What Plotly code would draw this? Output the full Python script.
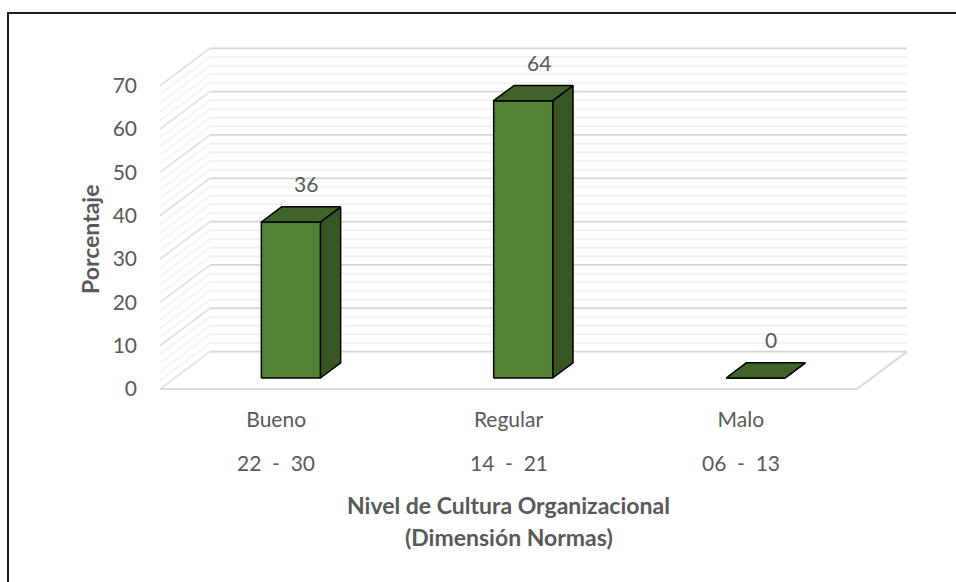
import plotly.graph_objects as go

# ---- data -------------------------------------------------------------
categorias = ["Bueno", "Regular", "Malo"]
rangos = ["22\u00a0\u00a0-\u00a0\u00a030", "14\u00a0\u00a0-\u00a0\u00a021", "06\u00a0\u00a0-\u00a0\u00a013"]
porcentajes = [36, 64, 0]
ticks_y = [0, 10, 20, 30, 40, 50, 60, 70]

# ---- 3D (oblique) geometry, expressed in axis units -------------------
PX_X = 232.33          # pixels per category slot
PX_Y = 4.333           # pixels per percentage point
DEPTH_X = 50 / PX_X    # horizontal shift of the full floor depth
DEPTH_Y = 37.4 / PX_Y  # vertical shift of the full floor depth
BAR_FRONT, BAR_BACK = 0.294, 0.70   # bar position inside the depth (0..1)
BAR_HALF = 0.127                    # half bar width, in category units
Y_TOP = 70
STEP_MINOR = 2
N = len(categorias)

# plot area in pixels (used to place paper-referenced text)
PLOT_L, PLOT_W, PLOT_T, PLOT_H = 160, 760, 30, 370

FONT = "Lato, 'Open Sans', sans-serif"
TXT = "#595959"
FRONT_C, TOP_C, SIDE_C = "#548235", "#40632a", "#375623"
TICK_SIZE, TITLE_SIZE = 21, 23


def proj(x, v, d):
    """Project a point (category x, value v, depth d) onto the 2D axes."""
    return x + d * DEPTH_X, v + d * DEPTH_Y


def px_x(px):
    return (px - PLOT_L) / PLOT_W


def px_y(py):
    return (PLOT_T + PLOT_H - py) / PLOT_H


def segs(pairs):
    xs, ys = [], []
    for a, b in pairs:
        xs += [a[0], b[0], None]
        ys += [a[1], b[1], None]
    return xs, ys


fig = go.Figure()

# ---- walls: back wall gridlines and side wall diagonals ----------------
levels = list(range(0, Y_TOP + 1, STEP_MINOR))
minor = [v for v in levels if v % 10]
major = [v for v in levels if v % 10 == 0]

for vals, col_back, col_side, w in [
    (minor, "#efefef", "#f3f3f3", 1.6),
    (major, "#d6d6d6", "#e2e2e2", 1.8),
]:
    xs, ys = segs([(proj(0, v, 1), proj(N, v, 1)) for v in vals])
    fig.add_trace(go.Scatter(x=xs, y=ys, mode="lines",
                             line=dict(color=col_back, width=w),
                             hoverinfo="skip"))
    xs, ys = segs([(proj(0, v, 0), proj(0, v, 1)) for v in vals])
    fig.add_trace(go.Scatter(x=xs, y=ys, mode="lines",
                             line=dict(color=col_side, width=w),
                             hoverinfo="skip"))

# floor outline (front edge and right edge)
xs, ys = segs([(proj(0, 0, 0), proj(N, 0, 0)), (proj(N, 0, 0), proj(N, 0, 1))])
fig.add_trace(go.Scatter(x=xs, y=ys, mode="lines",
                         line=dict(color="#d9d9d9", width=2),
                         hoverinfo="skip"))

# ---- bars ---------------------------------------------------------------
for i, v in enumerate(porcentajes):
    xc = i + 0.5
    xl, xr = xc - BAR_HALF, xc + BAR_HALF
    faces = [
        ([(xr, 0, BAR_FRONT), (xr, 0, BAR_BACK), (xr, v, BAR_BACK), (xr, v, BAR_FRONT)], SIDE_C),
        ([(xl, 0, BAR_FRONT), (xr, 0, BAR_FRONT), (xr, v, BAR_FRONT), (xl, v, BAR_FRONT)], FRONT_C),
        ([(xl, v, BAR_FRONT), (xr, v, BAR_FRONT), (xr, v, BAR_BACK), (xl, v, BAR_BACK)], TOP_C),
    ]
    for pts, col in faces:
        p = [proj(*q) for q in pts]
        p.append(p[0])
        fig.add_trace(go.Scatter(
            x=[a for a, _ in p], y=[b for _, b in p], mode="lines",
            fill="toself", fillcolor=col,
            line=dict(color="#000000", width=1.5),
            hoverinfo="skip"))

    # value label above the bar
    lx, ly = proj(xc, v, BAR_BACK)
    fig.add_annotation(x=lx, y=ly, text=str(v), showarrow=False,
                       yshift=23, xshift=-5,
                       font=dict(family=FONT, size=TICK_SIZE, color=TXT))

    # range row under the category name
    fig.add_annotation(x=xc, xref="x", y=px_y(462), yref="paper",
                       xanchor="center", yanchor="middle",
                       text=rangos[i], showarrow=False,
                       font=dict(family=FONT, size=TICK_SIZE, color=TXT))

# ---- axis titles --------------------------------------------------------
fig.add_annotation(x=px_x(90), xref="paper", y=px_y(240), yref="paper",
                   xanchor="center", yanchor="middle",
                   text="<b>Porcentaje</b>", textangle=-90, showarrow=False,
                   font=dict(family=FONT, size=TITLE_SIZE, color=TXT))
fig.add_annotation(x=N / 2, xref="x", y=px_y(505), yref="paper",
                   xanchor="center", yanchor="middle",
                   text="<b>Nivel de Cultura Organizacional</b>", showarrow=False,
                   font=dict(family=FONT, size=TITLE_SIZE, color=TXT))
fig.add_annotation(x=N / 2, xref="x", y=px_y(537), yref="paper",
                   xanchor="center", yanchor="middle",
                   text="<b>(Dimensión Normas)</b>", showarrow=False,
                   font=dict(family=FONT, size=TITLE_SIZE, color=TXT))

# chart border
fig.add_shape(type="rect", xref="paper", yref="paper",
              x0=px_x(8), x1=px_x(970), y0=px_y(600), y1=px_y(13),
              line=dict(color="#1f1f1f", width=2), layer="above")

fig.update_layout(
    width=956, height=582,
    margin=dict(l=PLOT_L, r=956 - PLOT_L - PLOT_W, t=PLOT_T,
                b=582 - PLOT_T - PLOT_H),
    paper_bgcolor="white", plot_bgcolor="white",
    showlegend=False,
    font=dict(family=FONT, color=TXT),
    xaxis=dict(range=[0, PLOT_W / PX_X], showgrid=False, zeroline=False,
               showline=False, tickvals=[i + 0.5 for i in range(N)],
               ticktext=categorias, ticks="", ticklabelstandoff=5,
               tickfont=dict(family=FONT, size=TICK_SIZE, color=TXT),
               fixedrange=True),
    yaxis=dict(range=[-11 / PX_Y, 359 / PX_Y], showgrid=False, zeroline=False,
               showline=False, tickvals=ticks_y, ticks="",
               ticklabelstandoff=22,
               tickfont=dict(family=FONT, size=TICK_SIZE, color=TXT),
               fixedrange=True),
)

fig.write_html("out.html")
